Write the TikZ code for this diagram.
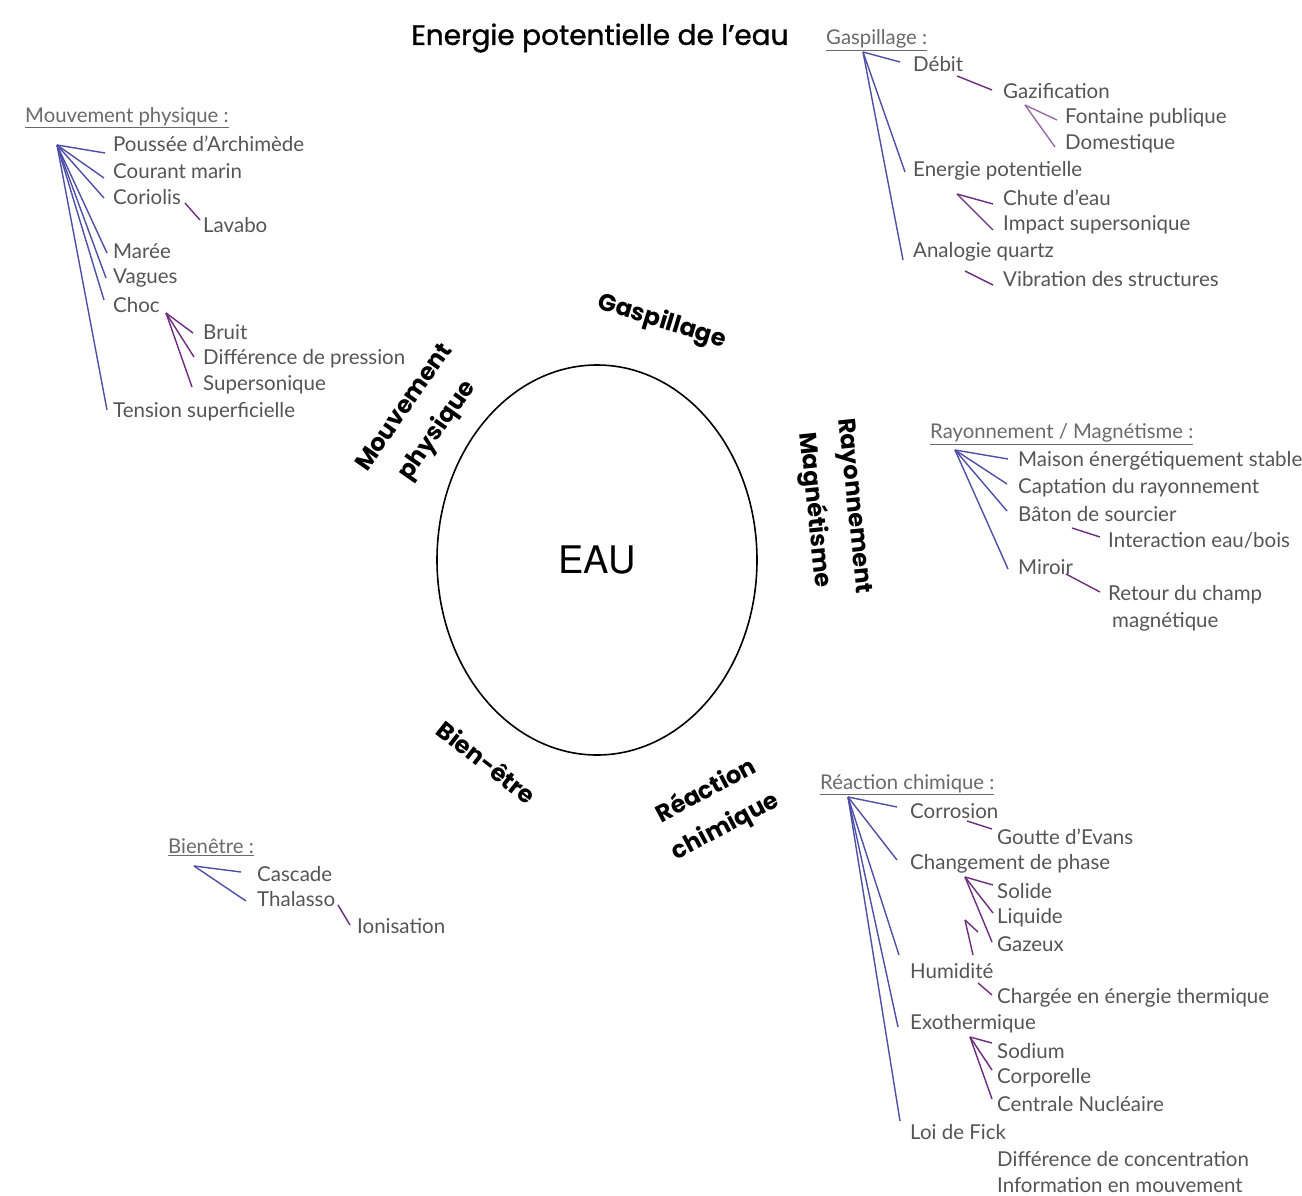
\documentclass[tikz,border=0pt]{standalone}
\usepackage{fontspec}
\setmainfont{Lato}
\newfontfamily\poptitle[FakeBold=1.2]{Poppins}
\newfontfamily\poplab{Poppins}
\newfontfamily\herosfont{TeX Gyre Heros}
\usetikzlibrary{shapes.geometric}
\definecolor{txtc}{HTML}{555555}
\definecolor{hdrc}{HTML}{6A6A6A}
\definecolor{blc}{HTML}{4F4FA8}
\definecolor{puc}{HTML}{6E2C7E}
\begin{document}
\begin{tikzpicture}[x=1pt,y=-1pt,
  item/.style={anchor=west,inner sep=0pt,text=txtc,font=\fontsize{20.5}{27}\selectfont},
  hdr/.style={anchor=west,inner sep=0pt,text=hdrc,font=\fontsize{20.3}{22}\selectfont},
  lab/.style={inner sep=0pt,align=center,font=\poplab\bfseries\fontsize{24}{40}\selectfont},
  bln/.style={draw=blc,line width=1.4pt},
  pln/.style={draw=puc,line width=1.4pt}]
\useasboundingbox[fill=white] (0,0) rectangle (1302,1196);

% title
\node[anchor=center,inner sep=0pt,font=\poptitle\fontsize{28}{32}\selectfont] (title) at (600,38) {Energie potentielle de l’eau};

% central ellipse
\node[draw,ellipse,line width=1.6pt,minimum width=320pt,minimum height=390pt,font=\herosfont\fontsize{38}{38}\selectfont] (eau) at (597,560) {EAU};

% circle labels
\node[lab,rotate=-17] (lgas) at (662,322) {Gaspillage};
\node[lab,rotate=55] (lmou) at (422,420) {Mouvement\\physique};
\node[lab,rotate=-84] (lray) at (833,508) {Rayonnement\\Magnétisme};
\node[lab,rotate=-38] (lbien) at (487,762) {Bien-être};
\node[lab,rotate=28] (lrea) at (716,809) {Réaction\\chimique};

% ---------- Mouvement physique ----------
\node[hdr] (mp) at (25,118) {\underline{Mouvement physique :}};
\coordinate (mpA) at (57,145);
\node[item] (pa) at (113,144) {Poussée d’Archimède};
\node[item] (cm) at (113,171) {Courant marin};
\node[item] (co) at (113,197) {Coriolis};
\node[item] (lv) at (203,225) {Lavabo};
\node[item] (ma) at (113,251) {Marée};
\node[item] (va) at (113,278) {Vagues};
\node[item] (ch) at (113,305) {Choc};
\node[item] (br) at (203,332) {Bruit};
\node[item] (dp) at (203,359) {Différence de pression};
\node[item] (ss) at (203,385) {Supersonique};
\node[item] (ts) at (113,412) {Tension superficielle};
\draw[bln] (mpA) -- ([shift={(-8,9)}]pa.west);
\draw[bln] (mpA) -- ([shift={(-9,7)}]cm.west);
\draw[bln] (mpA) -- ([shift={(-9,1)}]co.west);
\draw[bln] (mpA) -- ([shift={(-6,2)}]ma.west);
\draw[bln] (mpA) -- ([shift={(-7,0)}]va.west);
\draw[bln] (mpA) -- ([shift={(-9,-5)}]ch.west);
\draw[bln] (mpA) -- ([shift={(-6,-2)}]ts.west);
\draw[pln] ([shift={(-18,-22)}]lv.west) -- ([shift={(-3,-5)}]lv.west);
\coordinate (chA) at (166,313);
\draw[pln] (chA) -- ([shift={(-10,1)}]br.west);
\draw[pln] (chA) -- ([shift={(-9,-2)}]dp.west);
\draw[pln] (chA) -- ([shift={(-11,2)}]ss.west);

% ---------- Gaspillage ----------
\node[hdr] (gs) at (826,40) {\underline{Gaspillage :}};
\coordinate (gsA) at (863,52);
\node[item] (db) at (913,64) {Débit};
\node[item] (gz) at (1003,91) {Gazification};
\node[item] (fp) at (1065,118) {Fontaine publique};
\node[item] (dm) at (1065,144) {Domestique};
\node[item] (ep) at (913,171) {Energie potentielle};
\node[item] (cd) at (1003,198) {Chute d’eau};
\node[item] (is) at (1003,225) {Impact supersonique};
\node[item] (aq) at (913,252) {Analogie quartz};
\node[item] (vs) at (1003,279) {Vibration des structures};
\draw[bln] (gsA) -- ([shift={(-13,-2)}]db.west);
\draw[bln] (gsA) -- ([shift={(-8,1)}]ep.west);
\draw[bln] (gsA) -- ([shift={(-10,8)}]aq.west);
\draw[pln] ([shift={(-46,-15)}]gz.west) -- ([shift={(-11,-1)}]gz.west);
\coordinate (gzA) at (1025,105);
\draw[pln,draw=puc!70] (gzA) -- ([shift={(-8,2)}]fp.west);
\draw[pln,draw=puc!70] (gzA) -- ([shift={(-10,3)}]dm.west);
\coordinate (epA) at (957,194);
\draw[pln] (epA) -- ([shift={(-10,6)}]cd.west);
\draw[pln] (epA) -- ([shift={(-10,5)}]is.west);
\draw[pln] ([shift={(-38,-8)}]vs.west) -- ([shift={(-10,6)}]vs.west);

% ---------- Rayonnement / Magnetisme ----------
\node[hdr] (rm) at (930,434) {\underline{Rayonnement / Magnétisme :}};
\coordinate (rmA) at (955,450);
\node[item] (me) at (1018,461) {Maison énergétiquement stable};
\node[item] (cr) at (1018,488) {Captation du rayonnement};
\node[item] (bs) at (1018,514) {Bâton de sourcier};
\node[item] (ie) at (1108,540) {Interaction eau/bois};
\node[item] (mi) at (1018,567) {Miroir};
\node[item,align=left] (rc) at (1108,608) {Retour du champ\\\hspace*{4pt}magnétique};
\draw[bln] (rmA) -- ([shift={(-10,-2)}]me.west);
\draw[bln] (rmA) -- ([shift={(-11,-4)}]cr.west);
\draw[bln] (rmA) -- ([shift={(-11,-3)}]bs.west);
\draw[bln] (rmA) -- ([shift={(-10,2)}]mi.west);
\draw[pln] ([shift={(-36,-12)}]ie.west) -- ([shift={(-8,-3)}]ie.west);
\draw[pln] ([shift={(-42,-34)}]rc.west) -- ([shift={(-8,-16)}]rc.west);

% ---------- Reaction chimique ----------
\node[hdr] (rch) at (820,785) {\underline{Réaction chimique :}};
\coordinate (rchA) at (848,797);
\node[item] (cs) at (910,811) {Corrosion};
\node[item] (ge) at (997,837) {Goutte d’Evans};
\node[item] (cp) at (910,864) {Changement de phase};
\node[item] (so) at (997,891) {Solide};
\node[item] (li) at (997,918) {Liquide};
\node[item] (gx) at (997,944) {Gazeux};
\node[item] (hu) at (910,971) {Humidité};
\node[item] (ce) at (997,998) {Chargée en énergie thermique};
\node[item] (ex) at (910,1024) {Exothermique};
\node[item] (sd) at (997,1051) {Sodium};
\node[item] (cpo) at (997,1078) {Corporelle};
\node[item] (cn) at (997,1104) {Centrale Nucléaire};
\node[item] (lf) at (910,1132) {Loi de Fick};
\node[item] (dc) at (997,1159) {Différence de concentration};
\node[item] (im) at (997,1185) {Information en mouvement};
\draw[bln] (rchA) -- ([shift={(-13,-4)}]cs.west);
\draw[bln] (rchA) -- ([shift={(-13,-4)}]cp.west);
\draw[bln] (rchA) -- ([shift={(-11,-16)}]hu.west);
\draw[bln] (rchA) -- ([shift={(-12,3)}]ex.west);
\draw[bln] (rchA) -- ([shift={(-10,-11)}]lf.west);
\draw[pln] ([shift={(-30,-16)}]ge.west) -- ([shift={(-5,-8)}]ge.west);
\coordinate (cpA) at (965,877);
\draw[pln] (cpA) -- ([shift={(-4,-6)}]so.west);
\draw[pln] (cpA) -- ([shift={(-4,-5)}]li.west);
\draw[pln] (cpA) -- ([shift={(-5,-2)}]gx.west);
\coordinate (huA) at (965,920);
\draw[pln] (huA) -- ([shift={(-19,-12)}]gx.west);
\draw[pln] (huA) -- ([shift={(63,-16)}]hu.west);
\draw[pln] ([shift={(-19,-15)}]ce.west) -- ([shift={(-5,-3)}]ce.west);
\coordinate (exA) at (970,1037);
\draw[pln] (exA) -- ([shift={(-5,-8)}]sd.west);
\draw[pln] (exA) -- ([shift={(-5,-8)}]cpo.west);
\draw[pln] (exA) -- ([shift={(-5,-5)}]cn.west);

% ---------- Bien-etre ----------
\node[hdr] (be) at (168,847) {\underline{Bienêtre :}};
\coordinate (beA) at (194,866);
\node[item] (ca) at (257,874) {Cascade};
\node[item] (th) at (257,899) {Thalasso};
\node[item] (io) at (357,926) {Ionisation};
\draw[bln] (beA) -- ([shift={(-16,-2)}]ca.west);
\draw[bln] (beA) -- ([shift={(-11,2)}]th.west);
\draw[pln] ([shift={(-19,-21)}]io.west) -- ([shift={(-7,-1)}]io.west);
\end{tikzpicture}
\end{document}
